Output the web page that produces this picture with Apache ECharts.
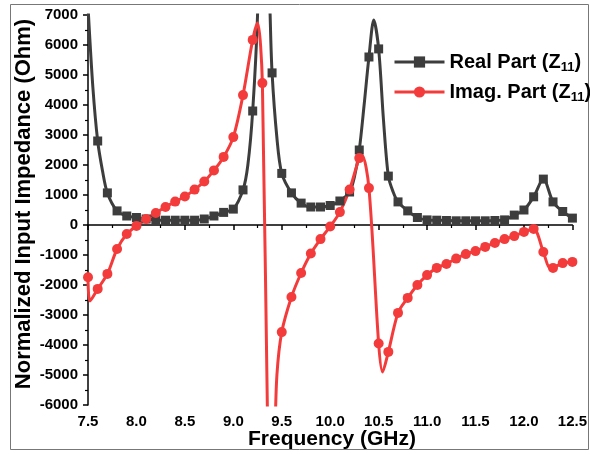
<!DOCTYPE html>
<html>
<head>
<meta charset="utf-8">
<script src="https://cdn.jsdelivr.net/npm/echarts@6/dist/echarts.min.js"></script>
<style>
  html, body { margin: 0; padding: 0; background: #fff; }
  #chart { width: 590px; height: 454px; }
</style>
</head>
<body>
<div id="chart"></div>
<script>
// marker points, every 0.1 GHz
const freq = [7.5, 7.6, 7.7, 7.8, 7.9, 8.0, 8.1, 8.2, 8.3, 8.4, 8.5, 8.6, 8.7, 8.8, 8.9, 9.0,
  9.1, 9.2, 9.3, 9.4, 9.5, 9.6, 9.7, 9.8, 9.9, 10.0, 10.1, 10.2, 10.3, 10.4, 10.5, 10.6, 10.7,
  10.8, 10.9, 11.0, 11.1, 11.2, 11.3, 11.4, 11.5, 11.6, 11.7, 11.8, 11.9, 12.0, 12.1, 12.2,
  12.3, 12.4, 12.5];
const realPart = [7300, 2800, 1070, 470, 300, 250, 200, 170, 160, 160, 160, 160, 200, 300, 420, 530,
  1170, 3800, 14000, 5070, 1720, 1070, 730, 600, 600, 650, 800, 1100, 2500, 5600, 5870, 1630, 770,
  470, 250, 170, 160, 150, 140, 140, 140, 140, 150, 170, 330, 500, 940, 1530,
  770, 450, 230];
const imagPart = [-1740, -2130, -1630, -800, -300, -30, 200, 400, 600, 780, 950, 1180, 1450, 1820, 2270, 2930,
  4330, 6170, 4730, -11000, -3570, -2400, -1600, -950, -470, -50, 430, 1180, 2230, 1230, -3950, -4230, -2930,
  -2430, -2000, -1670, -1430, -1300, -1120, -970, -870, -730, -600, -470, -370, -230, -130, -900,
  -1430, -1270, -1230];

// extra curve points between markers (no symbol)
const realExtraF = [7.55, 7.65, 9.15, 9.25, 9.35, 9.38, 9.45, 10.25, 10.35, 10.45, 10.55, 10.65];
const realExtraV = [4600, 1800, 2000, 7000, 11000, 7000, 2900, 1600, 4000, 6830, 3500, 1100];
const imagExtraF = [7.52, 9.25, 9.36, 9.43, 9.45, 10.33, 10.54, 12.27];
const imagExtraV = [-2530, 6730, -8000, -7000, -5000, 2320, -4900, -1450];

function build(vals, exF, exV) {
  let arr = [];
  for (let i = 0; i < freq.length; i++) {
    arr.push({ value: [freq[i], vals[i]] });
  }
  for (let i = 0; i < exF.length; i++) {
    arr.push({ value: [exF[i], exV[i]], symbol: 'none' });
  }
  arr.sort(function (a, b) { return a.value[0] - b.value[0]; });
  return arr;
}

const FONT = "'Liberation Sans', Arial, sans-serif";
var chart = echarts.init(document.getElementById('chart'));

var option = {
  backgroundColor: '#fff',
  animation: false,
  grid: { left: 88, right: 17, top: 15, bottom: 49 },
  legend: {
    orient: 'vertical',
    left: 388,
    top: 47,
    itemWidth: 50,
    itemHeight: 14,
    itemGap: 8,
    lineStyle: { width: 3 },
    data: ['Real Part (Z11)', 'Imag. Part (Z11)'],
    formatter: function (name) {
      if (name.indexOf('Real') === 0) return '{t|Real Part (Z}{s|11}{t|)}';
      return '{t|Imag. Part (Z}{s|11}{t|)}';
    },
    textStyle: {
      rich: {
        t: { fontFamily: FONT, fontWeight: 'bold', fontSize: 20, color: '#000', lineHeight: 24 },
        s: { fontFamily: FONT, fontWeight: 'bold', fontSize: 13, color: '#000', padding: [11, 0, 0, 0] }
      }
    }
  },
  xAxis: {
    type: 'value',
    min: 7.5,
    max: 12.5,
    interval: 0.5,
    axisLine: { lineStyle: { color: '#000', width: 1.5 } },
    axisTick: { length: 5, lineStyle: { color: '#000', width: 1.5 } },
    minorTick: { show: true, splitNumber: 2, length: 3, lineStyle: { color: '#000', width: 1.2 } },
    splitLine: { show: false },
    axisLabel: {
      margin: 9,
      color: '#000',
      fontFamily: FONT,
      fontWeight: 'bold',
      fontSize: 15,
      formatter: function (v) { return v.toFixed(1); }
    }
  },
  yAxis: {
    type: 'value',
    min: -6000,
    max: 7000,
    interval: 1000,
    axisLine: { show: true, lineStyle: { color: '#000', width: 1.5 } },
    axisTick: { show: true, length: 5, lineStyle: { color: '#000', width: 1.5 } },
    minorTick: { show: true, splitNumber: 2, length: 3, lineStyle: { color: '#000', width: 1.2 } },
    splitLine: { show: false },
    axisLabel: {
      margin: 10,
      color: '#000',
      fontFamily: FONT,
      fontWeight: 'bold',
      fontSize: 15,
      formatter: function (v) { return String(v); }
    }
  },
  series: [
    {
      name: 'Real Part (Z11)',
      type: 'line',
      smooth: 0.3,
      symbol: 'rect',
      symbolSize: 9,
      color: '#3d3d3d',
      lineStyle: { width: 3, color: '#3d3d3d' },
      itemStyle: { color: '#3d3d3d' },
      data: build(realPart, realExtraF, realExtraV)
    },
    {
      name: 'Imag. Part (Z11)',
      type: 'line',
      smooth: 0.3,
      symbol: 'circle',
      symbolSize: 10,
      color: '#f43b3b',
      lineStyle: { width: 3, color: '#f43b3b' },
      itemStyle: { color: '#f43b3b' },
      data: build(imagPart, imagExtraF, imagExtraV)
    }
  ],
  graphic: [
    {
      type: 'rect',
      shape: { x: 10.5, y: 4.5, width: 578, height: 445 },
      style: { fill: 'none', stroke: '#777', lineWidth: 1 },
      silent: true
    },
    {
      type: 'text',
      x: 332,
      y: 439,
      style: {
        text: 'Frequency (GHz)',
        font: 'bold 21px ' + FONT,
        fill: '#000',
        align: 'center',
        verticalAlign: 'middle'
      }
    },
    {
      type: 'text',
      x: 24,
      y: 204,
      rotation: Math.PI / 2,
      style: {
        text: 'Normalized Input Impedance (Ohm)',
        font: 'bold 22px ' + FONT,
        fill: '#000',
        align: 'center',
        verticalAlign: 'middle'
      }
    }
  ]
};
chart.setOption(option);
</script>
</body>
</html>
